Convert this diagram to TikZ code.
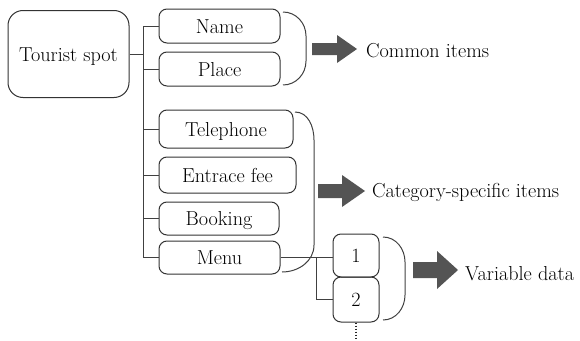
\documentclass[tikz,border=0pt]{standalone}
\usepackage{fontspec}
\newfontfamily\tnrfont{Latin Modern Roman}
\def\fsz{20.2}
\begin{document}
\begin{tikzpicture}[x=1pt,y=-1pt,
  line/.style={draw=black!75, line width=1pt},
  box/.style={draw=black!80, line width=1pt, rounded corners=8pt, font=\tnrfont\fontsize{\fsz}{24}\selectfont, text height=14pt, text depth=0pt, inner sep=0pt, align=center},
  lbl/.style={font=\tnrfont\fontsize{\fsz}{24}\selectfont, inner sep=0pt, anchor=base west},
  blk/.style={fill=black!67, draw=none}]
\useasboundingbox (0,0) rectangle (580,340);
% boxes
\node[box, rounded corners=15pt, minimum width=121pt, minimum height=87pt] (tour) at (68.5,54) {Tourist spot};
\node[box, minimum width=121pt, minimum height=34pt] (name) at (219.5,26) {Name};
\node[box, minimum width=121pt, minimum height=34pt] (place) at (219.5,69) {Place};
\node[box, minimum width=134pt, minimum height=38pt] (tel) at (226,129) {Telephone};
\node[box, minimum width=137pt, minimum height=36pt] (fee) at (227.5,175) {Entrace fee};
\node[box, minimum width=120pt, minimum height=33pt] (book) at (219,218.5) {Booking};
\node[box, minimum width=121pt, minimum height=33pt] (menu) at (219.5,257.5) {Menu};
\node[box, minimum width=46pt, minimum height=43pt] (one) at (356,255.5) {1};
\node[box, minimum width=46pt, minimum height=45pt] (two) at (356,299.5) {2};
% tree connectors
\coordinate (tr) at (143,0);
\draw[line] (tour.east) -- (tour.east -| tr);
\draw[line] (tr |- name.west) -- (tr |- menu.west);
\foreach \n in {name,place,tel,fee,book,menu} \draw[line] (tr |- \n.west) -- (\n.west);
\draw[line] (menu.east) -- (menu.east -| one.west);
\coordinate (tr2) at (316,0);
\draw[line] (tr2 |- menu.east) -- (tr2 |- two.west) -- (two.west);
\coordinate (dotend) at (356,340);
\draw[black!85, line width=2pt, dash pattern=on 1.5pt off 1.5pt] (two.south) -- (dotend);
% brackets
\draw[line] (283,12) to[out=0,in=90] (306,36) -- (306,61) to[out=-90,in=0] (283,85);
\draw[line] (295,112) to[out=0,in=90] (314,140) -- (314,245) to[out=-90,in=0] (282,272);
\draw[line] (383,237) to[out=0,in=90] (405,262) -- (405,295) to[out=-90,in=0] (383,320);
% block arrows
\fill[blk] (312,43) -- (337,43) -- (337,35) -- (357,49) -- (337,63) -- (337,55) -- (312,55) -- cycle;
\fill[blk] (318,184) -- (342,184) -- (342,175) -- (365,191) -- (342,207) -- (342,198) -- (318,198) -- cycle;
\fill[blk] (413,262) -- (437,262) -- (437,251) -- (458,270) -- (437,289) -- (437,278) -- (413,278) -- cycle;
% labels
\node[lbl] (common) at (366,57) {Common items};
\node[lbl] (cat) at (372,197) {Category-specific items};
\node[lbl] (var) at (465,280) {Variable data};
\end{tikzpicture}
\end{document}
